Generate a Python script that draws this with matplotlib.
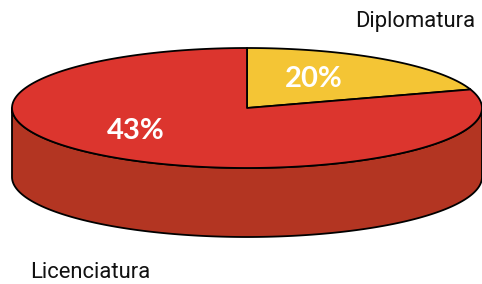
import numpy as np
import matplotlib
matplotlib.use("Agg")
import matplotlib.pyplot as plt
from matplotlib.patches import Polygon

# data
categories = ["Diplomatura", "Licenciatura"]
shares = [20, 80]            # share of the pie each slice covers
pct_labels = ["20%", "43%"]  # text printed on the slices

top_colors = ["#F4C535", "#DC352E"]
side_colors = ["#C9A02A", "#B33522"]

# geometry in pixels
cx, cy = 247, 108
rx, ry = 235, 60
depth = 69


def arc(t0, t1, dy=0, n=200):
    t = np.radians(np.linspace(t0, t1, n))
    return np.column_stack([cx + rx * np.cos(t), cy - ry * np.sin(t) + dy])


fig = plt.figure(figsize=(4.82, 2.84), dpi=100)
ax = fig.add_axes([0, 0, 1, 1])
ax.set_xlim(0, 482)
ax.set_ylim(284, 0)
ax.axis("off")

# slice angles, clockwise from 12 o'clock
fracs = np.array(shares) / sum(shares)
ends = 90 - 360 * np.cumsum(fracs)
starts = np.concatenate([[90], ends[:-1]])

# side wall (front half only: angles 180..360)
for s, e, col in zip(starts, ends, side_colors):
    lo, hi = min(s, e), max(s, e)
    for off in (0, -360, 360):
        a0, a1 = max(lo + off, -180), min(hi + off, 0)
        if a1 > a0:
            top = arc(a0, a1)
            bot = arc(a1, a0, dy=depth)
            ax.add_patch(Polygon(np.vstack([top, bot]), closed=True,
                                 facecolor=col, edgecolor="black", lw=1.3,
                                 joinstyle="round"))

# top face
for s, e, col in zip(starts, ends, top_colors):
    pts = np.vstack([[cx, cy], arc(s, e)])
    ax.add_patch(Polygon(pts, closed=True, facecolor=col,
                         edgecolor="black", lw=1.3, joinstyle="round"))

# percentage labels
label_pos = [(314, 79), (136, 131)]
for (x, y), txt in zip(label_pos, pct_labels):
    ax.text(x, y, txt, color="white", fontsize=21, fontweight="bold",
            family="Lato", ha="center", va="center")

# category labels
ax.text(475, 21, categories[0], fontsize=15.8, family="Roboto",
        ha="right", va="center", color="#111111")
ax.text(30, 273, categories[1], fontsize=15.8, family="Roboto",
        ha="left", va="center", color="#111111")

fig.savefig("out.png", dpi=100)
